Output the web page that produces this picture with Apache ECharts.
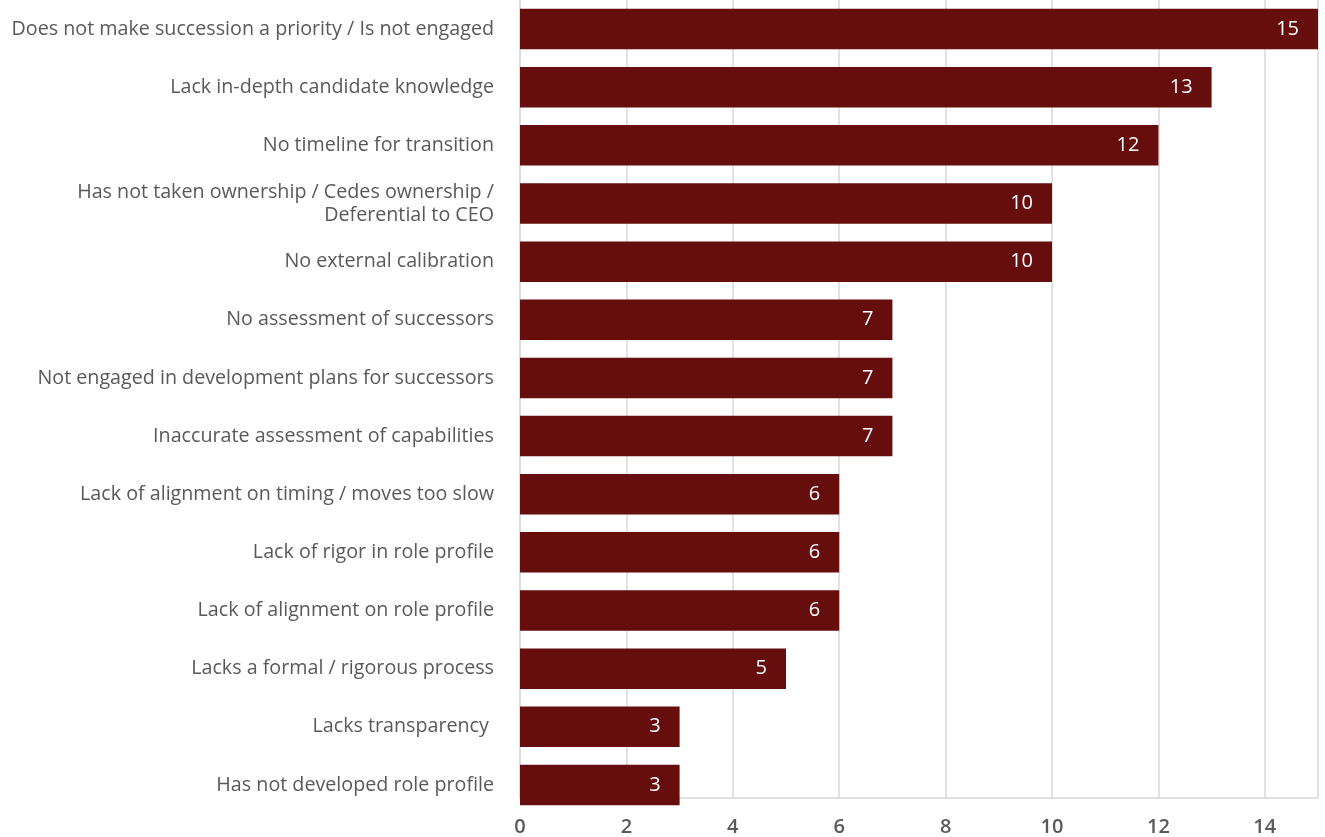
<!DOCTYPE html>
<html>
<head>
<meta charset="utf-8">
<script src="https://cdn.jsdelivr.net/npm/echarts@6/dist/echarts.min.js"></script>
<style>
  html, body { margin: 0; padding: 0; background: #ffffff; }
  #chart { width: 1325px; height: 837px; }
</style>
</head>
<body>
<div id="chart"></div>
<script>
// Reasons boards fall short on CEO succession (number of mentions)
const categories = [
  'Does not make succession a priority / Is not engaged',
  'Lack in-depth candidate knowledge',
  'No timeline for transition',
  'Has not taken ownership / Cedes ownership /\nDeferential to CEO',
  'No external calibration',
  'No assessment of successors',
  'Not engaged in development plans for successors',
  'Inaccurate assessment of capabilities',
  'Lack of alignment on timing / moves too slow',
  'Lack of rigor in role profile',
  'Lack of alignment on role profile',
  'Lacks a formal / rigorous process',
  'Lacks transparency ',
  'Has not developed role profile'
];
const values = [15, 13, 12, 10, 10, 7, 7, 7, 6, 6, 6, 5, 3, 3];
const xMin = 0;
const xMax = 15;
const xInterval = 2;

const FONT = '"Open Sans", "Noto Sans", sans-serif';
const BAR = '#650e0d';
const GRIDLINE = '#d9d9d9';
const TEXT = '#595959';

const chart = echarts.init(document.getElementById('chart'));
chart.setOption({
  animation: false,
  backgroundColor: '#ffffff',
  textStyle: { fontFamily: FONT },
  grid: [
    // bars and category labels
    { left: 520, right: 7, top: 0, height: 814, containLabel: false },
    // value scale: gridlines, axis line and tick labels
    { left: 520, right: 7, top: 0, height: 805, containLabel: false }
  ],
  xAxis: [
    {
      gridIndex: 0, type: 'value', min: xMin, max: xMax, interval: xInterval,
      show: false
    },
    {
      gridIndex: 1, type: 'value', min: xMin, max: xMax, interval: xInterval,
      axisLine: { show: true, lineStyle: { color: GRIDLINE, width: 1.5 } },
      axisTick: { show: false },
      splitLine: { show: true, lineStyle: { color: GRIDLINE, width: 1.5 } },
      axisLabel: {
        color: TEXT, fontFamily: FONT, fontSize: 20, fontWeight: 600, margin: 19,
        showMaxLabel: false
      }
    }
  ],
  yAxis: [
    {
      gridIndex: 0, type: 'category', data: categories, inverse: true,
      axisLine: { show: false },
      axisTick: { show: false },
      axisLabel: {
        color: TEXT, fontFamily: FONT, fontSize: 19.7, margin: 26,
        lineHeight: 23, align: 'right', padding: [10, 0, 0, 0]
      }
    },
    {
      gridIndex: 1, type: 'value', min: 0, max: 1,
      axisLine: { show: true, lineStyle: { color: GRIDLINE, width: 1.5 } },
      axisTick: { show: false },
      axisLabel: { show: false },
      splitLine: { show: false }
    }
  ],
  series: [
    {
      type: 'bar',
      xAxisIndex: 0,
      yAxisIndex: 0,
      data: values,
      barWidth: 40.5,
      itemStyle: { color: BAR },
      label: {
        show: true,
        position: 'insideRight',
        distance: 19,
        color: '#ffffff',
        fontFamily: FONT,
        fontSize: 20,
        fontWeight: 500,
        padding: [4, 0, 0, 0]
      }
    }
  ]
});
</script>
</body>
</html>
